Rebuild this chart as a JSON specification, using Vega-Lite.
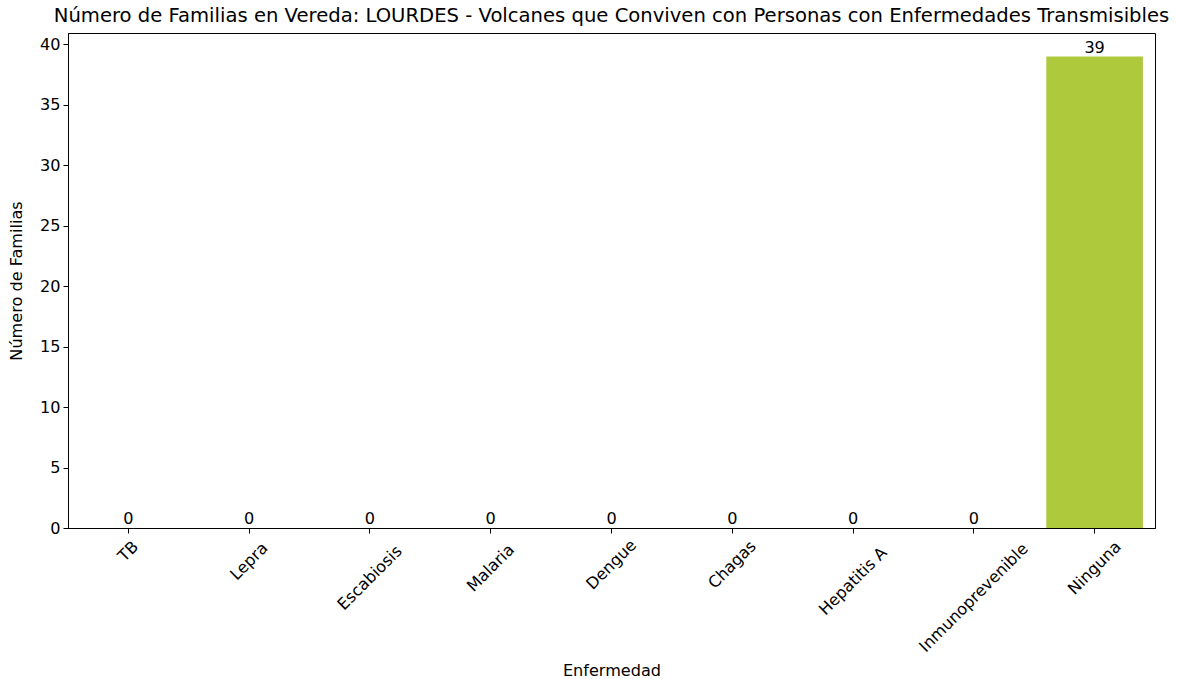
{
  "$schema": "https://vega.github.io/schema/vega-lite/v6.json",
  "width": 1087,
  "height": 495,
  "autosize": {"type": "none"},
  "padding": {"left": 68, "top": 33, "right": 22, "bottom": 151},
  "background": "white",
  "config": {
    "font": "DejaVu Sans",
    "view": {"stroke": "black", "strokeWidth": 1},
    "axis": {
      "labelFont": "DejaVu Sans",
      "titleFont": "DejaVu Sans",
      "labelFontSize": 16.1,
      "titleFontSize": 16.1,
      "labelColor": "black",
      "titleColor": "black",
      "titleFontWeight": "normal",
      "domainColor": "black",
      "tickColor": "black",
      "tickSize": 5,
      "grid": false
    }
  },
  "title": {
    "text": "Número de Familias en Vereda: LOURDES - Volcanes que Conviven con Personas con Enfermedades Transmisibles",
    "font": "DejaVu Sans",
    "fontSize": 19.6,
    "fontWeight": "normal",
    "color": "black",
    "anchor": "middle",
    "offset": 6
  },
  "data": {
    "values": [
      {"Enfermedad": "TB", "Familias": 0},
      {"Enfermedad": "Lepra", "Familias": 0},
      {"Enfermedad": "Escabiosis", "Familias": 0},
      {"Enfermedad": "Malaria", "Familias": 0},
      {"Enfermedad": "Dengue", "Familias": 0},
      {"Enfermedad": "Chagas", "Familias": 0},
      {"Enfermedad": "Hepatitis A", "Familias": 0},
      {"Enfermedad": "Inmunoprevenible", "Familias": 0},
      {"Enfermedad": "Ninguna", "Familias": 39}
    ]
  },
  "encoding": {
    "x": {
      "field": "Enfermedad",
      "type": "nominal",
      "sort": null,
      "scale": {"paddingInner": 0.2, "paddingOuter": 0.1},
      "axis": {
        "title": "Enfermedad",
        "labelAngle": -45,
        "labelAlign": "center",
        "labelBaseline": "middle",
        "labelPadding": {"expr": "11.5 + length(datum.label) * 3.3"},
        "labelLimit": 300,
        "titlePadding": 8
      }
    },
    "y": {
      "field": "Familias",
      "type": "quantitative",
      "scale": {"domain": [0, 40.95], "nice": false},
      "axis": {
        "title": "Número de Familias",
        "values": [0, 5, 10, 15, 20, 25, 30, 35, 40],
        "labelPadding": 3,
        "titlePadding": 15
      }
    }
  },
  "layer": [
    {"mark": {"type": "bar", "color": "#afc93d"}},
    {
      "mark": {"type": "text", "baseline": "bottom", "dy": -1, "fontSize": 16.1, "font": "DejaVu Sans", "color": "black"},
      "encoding": {"text": {"field": "Familias", "type": "quantitative"}}
    }
  ]
}
